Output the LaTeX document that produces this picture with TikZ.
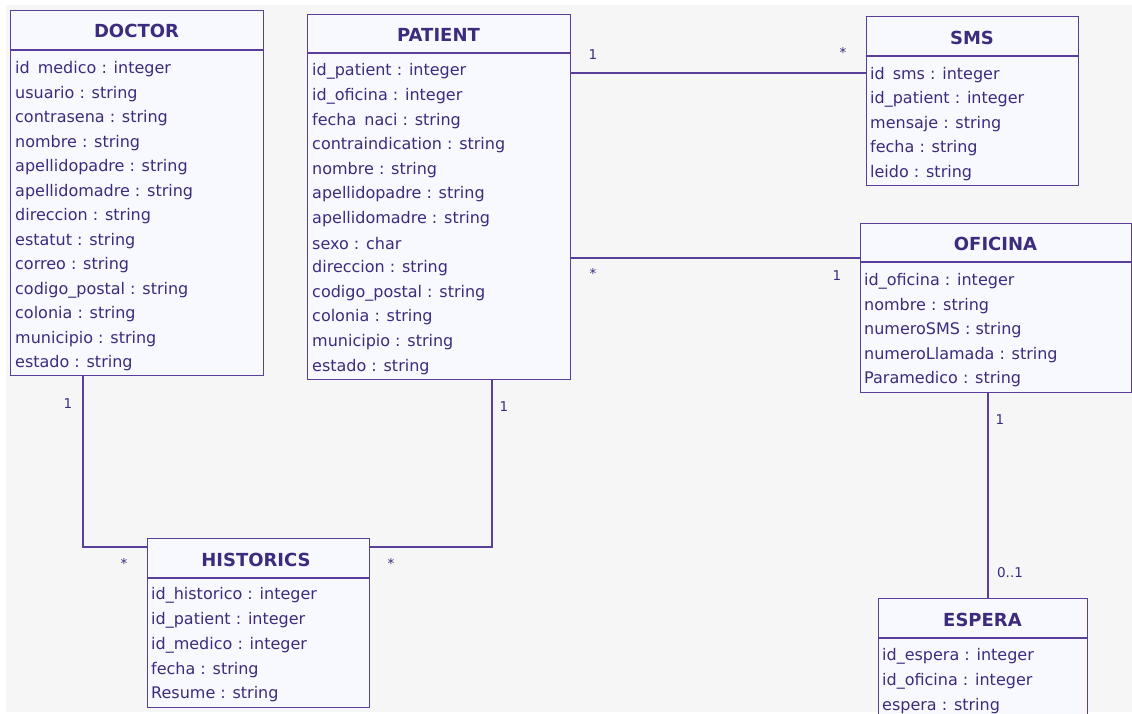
\documentclass[tikz,border=0pt]{standalone}
\usepackage{fontspec}
\setmainfont{DejaVu Sans}
\usetikzlibrary{calc}
\definecolor{lc}{HTML}{5A3F9A}
\definecolor{tc}{HTML}{3D2B7D}
\definecolor{boxfill}{HTML}{F8F9FE}
\definecolor{bg}{HTML}{F6F6F6}
\begin{document}
\begin{tikzpicture}[x=1pt,y=-1pt,
  box/.style={draw=lc, fill=boxfill, line width=1.4pt, inner sep=0pt, anchor=north west},
  ttl/.style={font=\fontsize{18}{21}\selectfont\bfseries, text=tc, inner sep=0pt},
  attr/.style={font=\fontsize{16}{19}\selectfont, text=tc, anchor=west, inner sep=0pt},
  mult/.style={font=\fontsize{13.5}{15}\selectfont, text=tc, inner sep=0pt},
  sep/.style={draw=lc, line width=1.4pt},
  conn/.style={draw=lc, line width=1.3pt}]
\useasboundingbox (0,0) rectangle (1132,714);
\fill[white] (0,0) rectangle (1132,714);
\fill[bg] (6,5) rectangle (1132,712);

% DOCTOR
\node[box, minimum width=253pt, minimum height=365pt] (doctor) at (10,10) {};
\draw[sep] ($(doctor.north west)+(0,40)$) -- ($(doctor.north east)+(0,40)$);
\node[ttl] (doctor-t) at (136.5,31) {DOCTOR};
\foreach \t [count=\i from 0] in {id\enspace medico : integer, usuario : string, contrasena : string, nombre : string, apellidopadre : string, apellidomadre : string, direccion : string, estatut : string, correo : string, codigo\_postal : string, colonia : string, municipio : string, estado : string}
  \node[attr] (doctor-\i) at (15,69.5+\i*24.5) {\t};

% PATIENT
\node[box, minimum width=263pt, minimum height=365pt] (patient) at (307,14) {};
\draw[sep] ($(patient.north west)+(0,39)$) -- ($(patient.north east)+(0,39)$);
\node[ttl] (patient-t) at (438.5,35) {PATIENT};
\foreach \t [count=\i from 0] in {id\_patient : integer, id\_oficina : integer, fecha\enspace naci : string, contraindication : string, nombre : string, apellidopadre : string, apellidomadre : string, sexo : char, direccion : string, codigo\_postal : string, colonia : string, municipio : string, estado : string}
  \node[attr] (patient-\i) at (312,71.5+\i*24.6) {\t};

% SMS
\node[box, minimum width=212pt, minimum height=169pt] (sms) at (866,16) {};
\draw[sep] ($(sms.north west)+(0,40)$) -- ($(sms.north east)+(0,40)$);
\node[ttl] (sms-t) at (972,38) {SMS};
\foreach \t [count=\i from 0] in {id\enspace sms : integer, id\_patient : integer, mensaje : string, fecha : string, leido : string}
  \node[attr] (sms-\i) at (870,75.5+\i*24.3) {\t};

% OFICINA
\node[box, minimum width=271pt, minimum height=169pt] (oficina) at (860,223) {};
\draw[sep] ($(oficina.north west)+(0,39)$) -- ($(oficina.north east)+(0,39)$);
\node[ttl] (oficina-t) at (995.5,244) {OFICINA};
\foreach \t [count=\i from 0] in {id\_oficina : integer, nombre : string, numeroSMS : string, numeroLlamada : string, Paramedico : string}
  \node[attr] (oficina-\i) at (864,281.5+\i*24.5) {\t};

% HISTORICS
\node[box, minimum width=222pt, minimum height=169pt] (historics) at (147,538) {};
\draw[sep] ($(historics.north west)+(0,40)$) -- ($(historics.north east)+(0,40)$);
\node[ttl] (historics-t) at (256,560) {HISTORICS};
\foreach \t [count=\i from 0] in {id\_historico : integer, id\_patient : integer, id\_medico : integer, fecha : string, Resume : string}
  \node[attr] (historics-\i) at (151,595.5+\i*24.75) {\t};

% ESPERA
\node[box, minimum width=209pt, minimum height=140pt] (espera) at (878,598) {};
\draw[sep] ($(espera.north west)+(0,40)$) -- ($(espera.north east)+(0,40)$);
\node[ttl] (espera-t) at (982.5,620) {ESPERA};
\foreach \t [count=\i from 0] in {id\_espera : integer, id\_oficina : integer, espera : string}
  \node[attr] (espera-\i) at (882,656.5+\i*25) {\t};

% Connectors
\draw[conn] ($(patient.north east)+(0,59)$) -- ($(sms.north west)+(0,57)$);
\draw[conn] ($(patient.north east)+(0,244)$) -- ($(oficina.north west)+(0,35)$);
\draw[conn] ($(doctor.south west)+(73,0)$) |- ($(historics.north west)+(0,9)$);
\draw[conn] ($(patient.south west)+(185,0)$) |- ($(historics.north east)+(0,9)$);
\draw[conn] ($(oficina.south west)+(128,0)$) -- ($(espera.north west)+(110,0)$);

% Multiplicities
\node[mult] (m1) at (593,55) {1};
\node[mult] (m2) at (843,52) {*};
\node[mult] (m3) at (593,273) {*};
\node[mult] (m4) at (837,276) {1};
\node[mult] (m5) at (68,404) {1};
\node[mult] (m6) at (124,563) {*};
\node[mult] (m7) at (504,407) {1};
\node[mult] (m8) at (391,563) {*};
\node[mult] (m9) at (1000,420) {1};
\node[mult] (m10) at (1010,573) {0..1};
\end{tikzpicture}
\end{document}
